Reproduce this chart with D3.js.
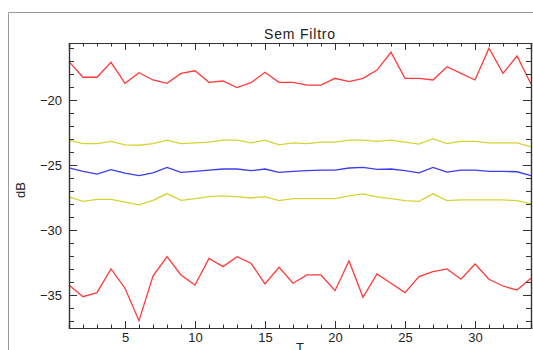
<!DOCTYPE html>
<html>
<head>
<meta charset="utf-8">
<script src="https://cdn.jsdelivr.net/npm/d3@7"></script>
<style>
  body { margin: 0; background: #fff; }
  svg { display: block; }
  .axis path, .axis line { stroke: #333; }
  .axis text { font-family: "Liberation Sans", Arial, sans-serif; font-size: 13px; fill: #222; }
</style>
</head>
<body>
<div id="chart"></div>
<script>
// data
var tValues = d3.range(1, 35)

var redTop = [-17.05, -18.25, -18.25, -17.1, -18.72, -17.9, -18.46, -18.72, -17.95, -17.75,
  -18.64, -18.54, -19.05, -18.67, -17.87, -18.64, -18.64, -18.85, -18.85, -18.33,
  -18.59, -18.33, -17.7, -16.33, -18.33, -18.33, -18.46, -17.44, -17.95, -18.46,
  -16.02, -17.95, -16.62, -18.77]

var yellowTop = [-23.09, -23.35, -23.35, -23.19, -23.45, -23.48, -23.35, -23.09, -23.35, -23.30,
  -23.24, -23.09, -23.09, -23.30, -23.09, -23.45, -23.30, -23.35, -23.24, -23.24,
  -23.09, -23.09, -23.19, -23.09, -23.24, -23.40, -22.98, -23.35, -23.19, -23.19,
  -23.30, -23.30, -23.30, -23.61]

var blueMid = [-25.23, -25.49, -25.70, -25.36, -25.63, -25.81, -25.60, -25.18, -25.57, -25.49,
  -25.39, -25.31, -25.31, -25.44, -25.31, -25.57, -25.49, -25.44, -25.39, -25.39,
  -25.23, -25.18, -25.34, -25.31, -25.44, -25.60, -25.18, -25.55, -25.39, -25.39,
  -25.49, -25.49, -25.52, -25.81]

var yellowBottom = [-27.46, -27.80, -27.64, -27.64, -27.85, -28.06, -27.72, -27.20, -27.72, -27.59,
  -27.43, -27.38, -27.43, -27.54, -27.43, -27.74, -27.59, -27.59, -27.59, -27.59,
  -27.38, -27.22, -27.46, -27.59, -27.74, -27.80, -27.22, -27.74, -27.69, -27.69,
  -27.69, -27.69, -27.74, -28.0]

var redBottom = [-34.23, -35.13, -34.82, -33.0, -34.48, -36.98, -33.54, -32.05, -33.46, -34.23,
  -32.18, -32.82, -32.05, -32.56, -34.15, -32.87, -34.1, -33.46, -33.46, -34.67,
  -32.38, -35.18, -33.38, -34.1, -34.82, -33.59, -33.21, -33.0, -33.79, -32.62,
  -33.79, -34.31, -34.62, -33.72]

var xMajorTicks = [5, 10, 15, 20, 25, 30]
var yMajorTicks = [-35, -30, -25, -20]

var series = [
  { name: 'redTop', values: redTop, color: '#ff3a3a' },
  { name: 'yellowTop', values: yellowTop, color: '#d6d434' },
  { name: 'blueMid', values: blueMid, color: '#3c3cf0' },
  { name: 'yellowBottom', values: yellowBottom, color: '#d6d434' },
  { name: 'redBottom', values: redBottom, color: '#ff3a3a' }
]

// set margins
var margin = { top: 43, right: 2, bottom: 22, left: 69 }
var width = 533 - margin.left - margin.right,
    height = 350 - margin.top - margin.bottom

var root = d3.select("#chart").append("svg")
    .attr("width", 533)
    .attr("height", 350)

// grey outer frame
root.append("path")
  .attr("d", "M8.5,350 L8.5,12.5 L533,12.5")
  .attr("fill", "none")
  .attr("stroke", "#9a9a9a")
  .attr("stroke-width", 1)

var svg = root.append("g")
    .attr("transform", "translate(" + margin.left + "," + margin.top + ")")

// scales
var xPositionScale = d3.scaleLinear()
  .domain([1, 34])
  .range([0, width])

var yPositionScale = d3.scaleLinear()
  .domain([-37.54, -15.615])
  .range([height, 0])

// lines
var line = d3.line()
  .x((d, i) => xPositionScale(tValues[i]))
  .y(d => yPositionScale(d))

svg.selectAll('.series')
  .data(series)
  .join('path')
  .attr('class', 'series')
  .attr('d', d => line(d.values))
  .attr('fill', 'none')
  .attr('stroke', d => d.color)
  .attr('stroke-width', 1.3)

// minor ticks
var yMinor = d3.range(-37, -15, 1)
var xMinor = tValues

svg.append("g").attr("class", "axis")
  .call(d3.axisLeft(yPositionScale).tickValues(yMinor).tickSize(-5).tickFormat(''))
svg.append("g").attr("class", "axis")
  .attr("transform", "translate(" + width + ",0)")
  .call(d3.axisRight(yPositionScale).tickValues(yMinor).tickSize(-5).tickFormat(''))
svg.append("g").attr("class", "axis")
  .attr("transform", "translate(0," + height + ")")
  .call(d3.axisBottom(xPositionScale).tickValues(xMinor).tickSize(-3.5).tickFormat(''))
svg.append("g").attr("class", "axis")
  .call(d3.axisTop(xPositionScale).tickValues(xMinor).tickSize(-3.5).tickFormat(''))

// major ticks
svg.append("g").attr("class", "axis y-axis")
  .call(d3.axisLeft(yPositionScale).tickValues(yMajorTicks).tickSize(-8).tickPadding(6))
svg.append("g").attr("class", "axis")
  .attr("transform", "translate(" + width + ",0)")
  .call(d3.axisRight(yPositionScale).tickValues(yMajorTicks).tickSize(-8).tickFormat(''))
svg.append("g").attr("class", "axis x-axis")
  .attr("transform", "translate(0," + height + ")")
  .call(d3.axisBottom(xPositionScale).tickValues(xMajorTicks).tickSize(-7).tickPadding(4))
svg.append("g").attr("class", "axis")
  .call(d3.axisTop(xPositionScale).tickValues(xMajorTicks).tickSize(-7).tickFormat(''))

svg.selectAll(".axis path.domain").attr("stroke", "#333").attr("stroke-width", 1.2)
svg.selectAll(".y-axis text").attr("x", -7)
svg.selectAll(".x-axis text").attr("y", 5)

// title and axis labels
root.append("text")
  .attr("x", margin.left + width / 2)
  .attr("y", 39)
  .attr("text-anchor", "middle")
  .attr("font-family", "Liberation Sans, Arial, sans-serif")
  .attr("font-size", 14)
  .attr("letter-spacing", 0.8)
  .attr("fill", "#222")
  .text("Sem Filtro")

root.append("text")
  .attr("transform", "translate(25,190) rotate(-90)")
  .attr("text-anchor", "middle")
  .attr("font-family", "Liberation Sans, Arial, sans-serif")
  .attr("font-size", 13)
  .attr("fill", "#222")
  .text("dB")

root.append("text")
  .attr("x", margin.left + width / 2)
  .attr("y", 352)
  .attr("text-anchor", "middle")
  .attr("font-family", "Liberation Sans, Arial, sans-serif")
  .attr("font-size", 13)
  .attr("fill", "#222")
  .text("T")
</script>
</body>
</html>
